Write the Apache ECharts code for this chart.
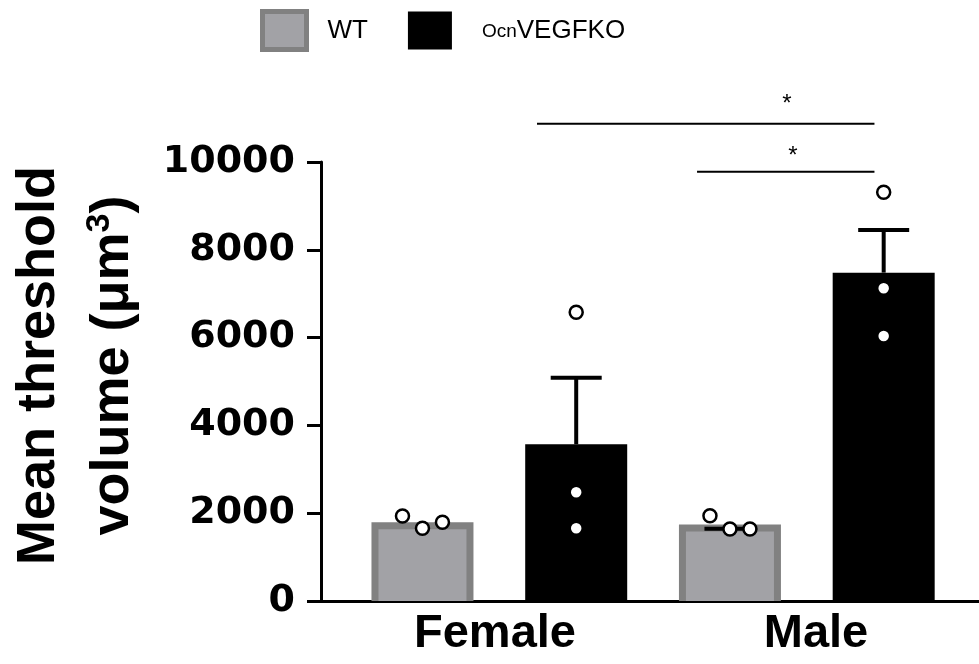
<!DOCTYPE html>
<html>
<head>
<meta charset="utf-8">
<script src="https://cdn.jsdelivr.net/npm/echarts@6/dist/echarts.min.js"></script>
<style>
  html, body { margin: 0; padding: 0; background: #fff; }
  #chart { width: 979px; height: 664px; }
</style>
</head>
<body>
<div id="chart"></div>
<script>
// ---- data ----
const categories = ['Female', 'Male'];
const groups = ['WT', 'OcnVEGFKO'];
const wtMean = [1795, 1745];
const koMean = [3570, 7480];
const wtErrTop = [null, 1647];
const koErrTop = [5087, 8450];
const wtDots = [[1936, 1656, 1793], [1943, 1640, 1640]];
const koDots = [[6576, 2476, 1656], [9310, 7123, 6036]];
const yTicks = { min: 0, max: 10000, interval: 2000 };
// significance brackets: [x from, x to, y] in axis units; stars: [x, y, text]
const sigLines = [[0.745, 2.94, 10873], [1.786, 2.94, 9779]];
const sigStars = [[2.37, 11458, '*'], [2.41, 10273, '*']];

// ---- style constants ----
const BAR_W = 102;
const BORDER = 7;
const CAP_W = 51;
const WT_FILL = '#a2a2a6';
const WT_BORDER = '#818181';
const KO_FILL = '#000000';
const JITTER = [-0.13, 0, 0.13];

function slot(catIdx, grpIdx) { return catIdx * 2 + grpIdx; }

const wtBars = wtMean.map((v, i) => [slot(i, 0), v]);
const koBars = koMean.map((v, i) => [slot(i, 1), v]);
const errData = [];
wtErrTop.forEach((e, i) => { if (e != null) errData.push([slot(i, 0), wtMean[i], e]); });
koErrTop.forEach((e, i) => { if (e != null) errData.push([slot(i, 1), koMean[i], e]); });
const wtPts = [], koPts = [];
wtDots.forEach((arr, i) => arr.forEach((v, j) => wtPts.push([slot(i, 0) + JITTER[j], v])));
koDots.forEach((arr, i) => arr.forEach((v) => koPts.push([slot(i, 1), v])));

function barRender(fill, border) {
  return function (params, api) {
    const x = api.value(0), y = api.value(1);
    const top = api.coord([x, y]);
    const base = api.coord([x, 0]);
    const h = base[1] - top[1];
    const children = [];
    if (border) {
      children.push({ type: 'rect', shape: { x: top[0] - BAR_W / 2, y: top[1], width: BAR_W, height: h },
        style: { fill: border } });
      children.push({ type: 'rect', shape: { x: top[0] - BAR_W / 2 + BORDER, y: top[1] + BORDER,
        width: BAR_W - 2 * BORDER, height: h - BORDER }, style: { fill: fill } });
    } else {
      children.push({ type: 'rect', shape: { x: top[0] - BAR_W / 2, y: top[1], width: BAR_W, height: h },
        style: { fill: fill } });
    }
    return { type: 'group', children: children };
  };
}

function errRender(params, api) {
  const x = api.value(0);
  const m = api.coord([x, api.value(1)]);
  const e = api.coord([x, api.value(2)]);
  return { type: 'group', children: [
    { type: 'line', shape: { x1: m[0], y1: m[1], x2: e[0], y2: e[1] }, style: { stroke: '#000', lineWidth: 4 } },
    { type: 'line', shape: { x1: e[0] - CAP_W / 2, y1: e[1], x2: e[0] + CAP_W / 2, y2: e[1] }, style: { stroke: '#000', lineWidth: 4 } }
  ]};
}

function sigLineRender(params, api) {
  const a = api.coord([api.value(0), api.value(2)]);
  const b = api.coord([api.value(1), api.value(2)]);
  return { type: 'line', shape: { x1: a[0], y1: a[1], x2: b[0], y2: b[1] }, style: { stroke: '#000', lineWidth: 2 } };
}

function sigStarRender(params, api) {
  const p = api.coord([api.value(0), api.value(1)]);
  return { type: 'text', x: p[0], y: p[1] + 6,
    style: { text: sigStars[params.dataIndex][2], fontFamily: 'Liberation Sans', fontSize: 24,
      fill: '#000', align: 'center', verticalAlign: 'middle' } };
}

const legendText = { fontFamily: 'Liberation Sans', fontSize: 26, color: '#000',
  rich: { s: { fontFamily: 'Liberation Sans', fontSize: 19, color: '#000', padding: [2, 0, 0, 0] } } };

const chart = echarts.init(document.getElementById('chart'), null, { renderer: 'canvas' });
chart.setOption({
  animation: false,
  backgroundColor: '#fff',
  legend: {
    left: 260, top: 9, padding: 0,
    selectedMode: false,
    itemWidth: 44, itemHeight: 38, itemGap: 40,
    icon: 'rect',
    data: [
      { name: groups[0], itemStyle: { color: WT_FILL, borderColor: WT_BORDER, borderWidth: 5 },
        textStyle: Object.assign({}, legendText, { padding: [0, 0, 0, 16] }) },
      { name: groups[1], itemStyle: { color: KO_FILL, borderWidth: 0 },
        textStyle: Object.assign({}, legendText, { padding: [0, 0, 0, 25] }) }
    ],
    formatter: function (name) { return name === 'OcnVEGFKO' ? '{s|Ocn}VEGFKO' : name; },
    textStyle: legendText
  },
  grid: [
    { left: 321, right: 0, top: 162, bottom: 63, outerBoundsMode: 'none', containLabel: false },
    { left: 334.5, width: 642, top: 162, bottom: 63, outerBoundsMode: 'none', containLabel: false }
  ],
  xAxis: [
    { type: 'value', gridIndex: 0, min: -0.66, max: 3.62,
      axisLine: { show: true, onZero: false, lineStyle: { color: '#000', width: 3 } },
      axisTick: { show: false }, axisLabel: { show: false }, splitLine: { show: false } },
    { type: 'category', gridIndex: 1, data: categories,
      axisLine: { show: false }, axisTick: { show: false }, splitLine: { show: false },
      axisLabel: { margin: 10, color: '#000', fontFamily: 'Liberation Sans', fontWeight: 'bold', fontSize: 47 } }
  ],
  yAxis: [
    { type: 'value', gridIndex: 0, min: yTicks.min, max: yTicks.max, interval: yTicks.interval,
      axisLine: { show: true, onZero: false, lineStyle: { color: '#000', width: 3 } },
      axisTick: { show: true, length: 14, lineStyle: { color: '#000', width: 3 } },
      splitLine: { show: false },
      axisLabel: { margin: 26, color: '#000', fontFamily: 'DejaVu Sans', fontWeight: 'bold', fontSize: 38,
        formatter: function (v) { return String(v); } },
      name: 'Mean threshold\nvolume (μm{sup|3})',
      nameLocation: 'middle', nameGap: 171, nameRotate: 90,
      nameTextStyle: { color: '#000', fontFamily: 'Liberation Sans', fontWeight: 'bold', fontSize: 54,
        lineHeight: 74, padding: [0, 0, 0, 32],
        rich: { sup: { fontFamily: 'Liberation Sans', fontWeight: 'bold', fontSize: 34, color: '#000',
          padding: [0, 0, 26, 0] } } } },
    { type: 'value', gridIndex: 1, show: false }
  ],
  series: [
    { name: groups[0], type: 'custom', xAxisIndex: 0, yAxisIndex: 0, renderItem: barRender(WT_FILL, WT_BORDER),
      data: wtBars, itemStyle: { color: WT_FILL }, z: 2 },
    { name: groups[1], type: 'custom', xAxisIndex: 0, yAxisIndex: 0, renderItem: barRender(KO_FILL, null),
      data: koBars, itemStyle: { color: KO_FILL }, z: 2 },
    { name: 'SEM', type: 'custom', renderItem: errRender, data: errData, z: 3 },
    { name: 'WT points', type: 'scatter', data: wtPts, symbol: 'circle', symbolSize: 13,
      itemStyle: { color: '#fff', borderColor: '#000', borderWidth: 2.5, opacity: 1 }, z: 4 },
    { name: 'KO points', type: 'scatter', data: koPts, symbol: 'circle', symbolSize: 13,
      itemStyle: { color: '#fff', borderColor: '#000', borderWidth: 2.5, opacity: 1 }, z: 4 },
    { name: 'sig lines', type: 'custom', renderItem: sigLineRender, data: sigLines, clip: false, z: 5 },
    { name: 'sig stars', type: 'custom', renderItem: sigStarRender, data: sigStars.map(s => [s[0], s[1]]), clip: false, z: 5 }
  ]
});
</script>
</body>
</html>
